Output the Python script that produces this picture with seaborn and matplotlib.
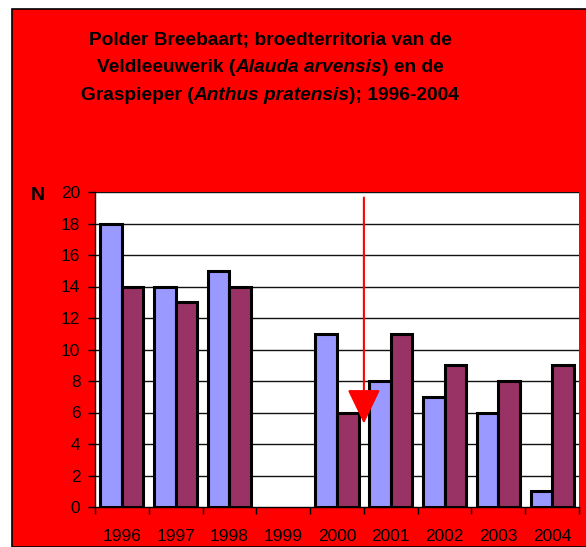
import seaborn as sns
import matplotlib.pyplot as plt
import pandas as pd
from matplotlib.patches import Rectangle

# data
years = ['1996', '1997', '1998', '1999', '2000', '2001', '2002', '2003', '2004']
veldleeuwerik = [18, 14, 15, 0, 11, 8, 7, 6, 1]
graspieper = [14, 13, 14, 0, 6, 11, 9, 8, 9]
species = ['Veldleeuwerik', 'Graspieper']
bar_colors = ['#9999FF', '#993366']
y_ticks = [0, 2, 4, 6, 8, 10, 12, 14, 16, 18, 20]

# arrow marking 2000/2001
arrow_x = 4.5
arrow_top = 19.65
arrow_tip = 5.3

df = pd.DataFrame({
    'jaar': years * 2,
    'N': veldleeuwerik + graspieper,
    'soort': [species[0]] * len(years) + [species[1]] * len(years),
})

plt.rcParams['font.family'] = ['Liberation Sans', 'DejaVu Sans']

fig = plt.figure(figsize=(5.86, 5.47), dpi=100)
fig.patch.set_facecolor('white')
# red chart area with black border on left/top
bg = Rectangle((12 / 586, 0), 1, 1 - 9 / 547, transform=fig.transFigure,
               facecolor='#FF0000', edgecolor='black', linewidth=1.2, zorder=-10)
fig.add_artist(bg)

ax = fig.add_axes([95 / 586, 40 / 547, 484 / 586, 315 / 547])
ax.set_facecolor('white')

for y in y_ticks[1:]:
    ax.axhline(y, color='#111111', linewidth=1, zorder=0.5)

sns.barplot(data=df, x='jaar', y='N', hue='soort', palette=bar_colors, width=0.8,
            saturation=1, edgecolor='black', linewidth=2.2, legend=False, ax=ax, zorder=2)
# empty years show no bar outline
for p in ax.patches:
    if p.get_height() == 0:
        p.set_linewidth(0)

ax.set_xlim(-0.5, len(years) - 0.5)
ax.set_ylim(0, 20)
ax.set_yticks(y_ticks)
ax.tick_params(axis='y', labelsize=12.5, length=5, width=1, color='black', pad=5.5)
ax.set_xticks(range(len(years)))
ax.set_xticklabels(years)
ax.set_xticks([i - 0.5 for i in range(len(years) + 1)], minor=True)
ax.tick_params(axis='x', which='major', length=0, labelsize=12.5, pad=16)
ax.tick_params(axis='x', which='minor', length=5, width=1, color='black')
ax.set_xlabel('')
ax.set_ylabel('')
for s in ['top', 'right']:
    ax.spines[s].set_visible(False)
ax.spines['left'].set_linewidth(1)
ax.spines['bottom'].set_linewidth(1)

ax.annotate('', xy=(arrow_x, arrow_tip), xytext=(arrow_x, arrow_top),
            arrowprops=dict(arrowstyle='-|>,head_length=1.08,head_width=0.52',
                            mutation_scale=20, color='#FF0000', lw=1.5,
                            shrinkA=0, shrinkB=0), zorder=5)

fig.text(38 / 586, 1 - 195 / 547, 'N', fontsize=14, fontweight='bold', ha='center', va='center')

# title with italic species names, centred line by line
title_lines = [
    [('Polder Breebaart; broedterritoria van de', 'normal')],
    [('Veldleeuwerik (', 'normal'), ('Alauda arvensis', 'italic'), (') en de', 'normal')],
    [('Graspieper (', 'normal'), ('Anthus pratensis', 'italic'), ('); 1996-2004', 'normal')],
]
title_y = [40, 68, 96]
title_cx = 270
renderer = fig.canvas.get_renderer()
for line, ty in zip(title_lines, title_y):
    pieces = []
    for txt, style in line:
        t = fig.text(0, 1 - ty / 547, txt, fontsize=13.8, fontweight='bold', style=style,
                     va='center', ha='left')
        pieces.append(t)
    widths = [p.get_window_extent(renderer).width for p in pieces]
    x = title_cx - sum(widths) / 2
    for p, w in zip(pieces, widths):
        p.set_x(x / 586)
        x += w

plt.savefig('out.png', dpi=100, facecolor=fig.get_facecolor())
